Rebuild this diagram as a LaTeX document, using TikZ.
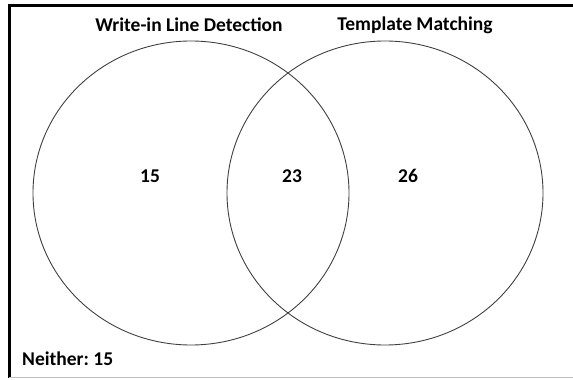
\documentclass[tikz,border=0pt]{standalone}
\usepackage{fontspec}
\setmainfont{Carlito}
\begin{document}
\begin{tikzpicture}[x=1pt,y=-1pt,every node/.style={font=\bfseries\fontsize{19.5}{22}\selectfont,anchor=center}]
\useasboundingbox (0,0) rectangle (573,380);
% frame
\draw[line width=3pt] (573,5) -- (9,5) -- (9,378);
\draw[black!25] (9,377) -- (573,377);
% the two sets
\foreach \cx in {191,385} {
	\draw[black!75,line width=0.9pt] (\cx,193) ellipse [x radius=158,y radius=152];
}
\node (write-in) at (189,25) {Write-in Line Detection};
\node (template) at (415,25) {Template Matching};
\node (only-write) at (150,176) {15};
\node (both) at (292,176) {23};
\node (only-template) at (408,176) {26};
\node[anchor=west,inner sep=0pt] (neither) at (22,359) {Neither:\ 15};
\end{tikzpicture}
\end{document}
